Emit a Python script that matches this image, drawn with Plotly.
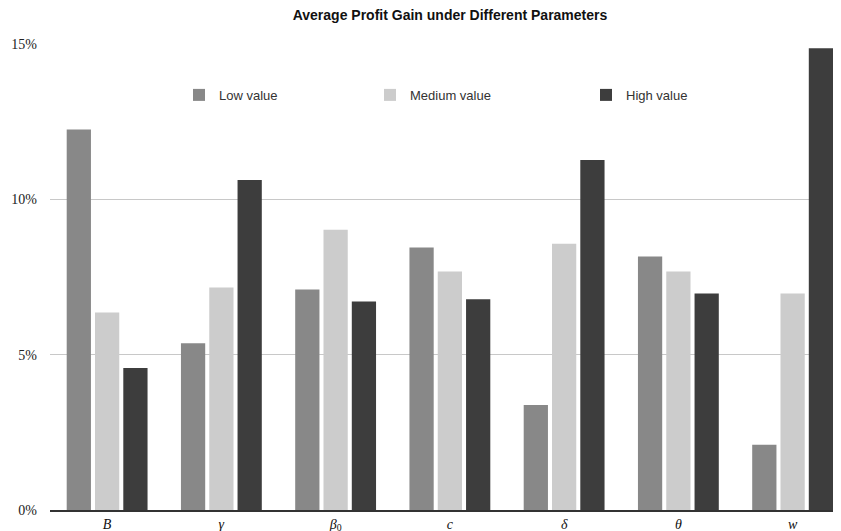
import plotly.graph_objects as go

categories = ["<i>B</i>", "<i>γ</i>", "<i>β</i><sub>0</sub>", "<i>c</i>", "<i>δ</i>", "<i>θ</i>", "<i>w</i>"]
low_values = [12.25, 5.37, 7.10, 8.45, 3.38, 8.16, 2.10]
medium_values = [6.36, 7.16, 9.02, 7.68, 8.57, 7.68, 6.97]
high_values = [4.57, 10.62, 6.71, 6.78, 11.27, 6.97, 14.86]
series_names = ["Low value", "Medium value", "High value"]
y_ticks = [0, 5, 10, 15]
y_tick_labels = ["0%", "5%", "10%", "15%"]

colors = ["#888888", "#cccccc", "#3d3d3d"]
legend_ids = ["legend", "legend2", "legend3"]

# page body has an 8px default margin; compensate so the chart fills the window like the reference
OFF = 8
W, H = 841 - OFF, 531 - OFF
L, R, T, B = 50 - OFF, 0, 44 - OFF, 20.5
PW, PH = W - L - R, H - T - B

legend_text_x = [219, 410, 626]  # window coords of legend texts
legend_y = 95

fig = go.Figure()
for name, vals, col, lid in zip(series_names, [low_values, medium_values, high_values], colors, legend_ids):
    fig.add_trace(go.Bar(x=list(range(len(categories))), y=vals, name=name,
                         marker=dict(color=col, line=dict(width=0)), legend=lid))

legend_common = dict(orientation="h", xanchor="left", yanchor="middle",
                     bgcolor="rgba(0,0,0,0)", font=dict(family="Liberation Sans, Arial", size=13, color="#333333"),
                     itemwidth=30)
layout_legends = {}
for lid, tx in zip(legend_ids, legend_text_x):
    lx = tx - 40 - OFF - L
    layout_legends[lid] = dict(legend_common, x=lx / PW, y=(H - B - (legend_y - OFF)) / PH)

fig.update_layout(
    width=W, height=H,
    margin=dict(l=L, r=R, t=T, b=B, pad=0),
    paper_bgcolor="white", plot_bgcolor="white",
    barmode="group", bargap=0.257, bargroupgap=0.143,
    showlegend=True,
    title=dict(text="<b>Average Profit Gain under Different Parameters</b>",
               x=(450 - OFF) / W, xanchor="center", xref="container",
               y=1 - (15 - OFF) / H, yanchor="middle", yref="container",
               font=dict(family="Liberation Sans, Arial", size=14, color="#111111")),
    xaxis=dict(tickmode="array", tickvals=list(range(len(categories))), ticktext=categories,
               range=[-0.5, -0.5 + PW / 114.25], showgrid=False, zeroline=False, showline=True,
               linecolor="#333333", linewidth=1.5, ticks="", automargin=False,
               tickfont=dict(family="Liberation Serif, Times New Roman", size=14, color="#111111")),
    yaxis=dict(range=[0, 15], tickmode="array", tickvals=y_ticks, ticktext=y_tick_labels,
               showgrid=True, gridcolor="#c8c8c8", gridwidth=1, zeroline=False, showline=False,
               ticks="", ticklabelstandoff=12, automargin=False,
               tickfont=dict(family="Liberation Serif, Times New Roman", size=14, color="#222222")),
    **layout_legends,
)

fig.write_html("out.html")
